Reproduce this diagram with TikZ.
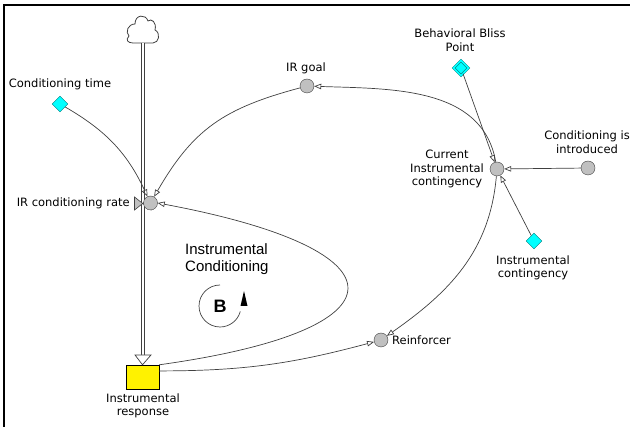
\documentclass[tikz,border=0pt]{standalone}
\usepackage{fontspec}
\setmainfont{DejaVu Sans}
\newfontfamily\loopfont{Liberation Sans}
\usetikzlibrary{arrows.meta, shapes.geometric}

\definecolor{auxgray}{HTML}{C0C0C0}
\definecolor{constcyan}{HTML}{00FFFF}
\definecolor{linkgray}{HTML}{404040}
\definecolor{constedge}{HTML}{007878}

\begin{document}
\begin{tikzpicture}[x=1pt, y=1pt,
    font=\fontsize{11.5}{13.5}\selectfont,
    aux/.style={circle, draw=linkgray, fill=auxgray, inner sep=0pt, minimum size=14pt},
    const/.style={diamond, draw=constedge, fill=constcyan, inner sep=0pt, minimum size=16pt},
    stock/.style={rectangle, draw=black, fill=yellow, inner sep=0pt, minimum width=33pt, minimum height=24pt},
    link/.style={draw=linkgray, line width=0.7pt, -{Triangle[open, length=7pt, width=5.5pt]}},
    pipe/.style={draw=linkgray, line width=0.8pt, double=white, double distance=2.4pt},
    lbl/.style={align=center, inner sep=0pt}]
  \useasboundingbox (0,-427) rectangle (630,0);

  % window edge
  \draw[line width=1.5pt] (4,-427) -- (4,-5) -- (630,-5);

  % source cloud and flow pipe
  \draw[linkgray, line width=0.8pt, fill=white] (133,-43) -- (153,-43)
    .. controls (159,-43) and (161,-33) .. (155,-30)
    .. controls (157,-22) and (151,-18) .. (148,-21)
    .. controls (146,-14) and (135,-14) .. (135,-24)
    .. controls (128,-24) and (125,-32) .. (129,-36)
    .. controls (125,-40) and (128,-43) .. (133,-43) -- cycle;
  \coordinate (cloudbase) at (143,-43);

  \node[stock] (resp) at (142.5,-377) {};
  \coordinate (pipeend) at (143,-355);
  \draw[pipe] (cloudbase) -- (pipeend);
  \draw[linkgray, line width=0.7pt, fill=white] (135,-355) -- (151,-355) -- (resp.north) -- cycle;

  % valve
  \draw[linkgray, line width=0.6pt, fill=auxgray] (134.5,-197) -- (151,-210) -- (151,-197) -- (134.5,-210) -- cycle;

  % variables
  \node[aux] (rate) at (150.5,-203) {};
  \node[aux] (goal) at (307,-86) {};
  \node[aux] (cur) at (497,-169) {};
  \node[aux] (intro) at (588,-168) {};
  \node[aux] (reinf) at (381,-340) {};
  \node[const] (ctime) at (60,-104) {};
  \node[const] (cont) at (534,-241) {};
  \node[const, minimum size=15pt, double=constcyan, double distance=1.6pt] (bliss) at (461,-68) {};

  % names
  \node[lbl, anchor=east] (rate-l) at (130,-203) {IR conditioning rate};
  \node[lbl] (goal-l) at (306,-68) {IR goal};
  \node[lbl] (ctime-l) at (60,-84) {Conditioning time};
  \node[lbl] (bliss-l) at (460,-40) {Behavioral Bliss\\Point};
  \node[lbl] (cur-l) at (447,-169) {Current\\Instrumental\\contingency};
  \node[lbl] (intro-l) at (587,-142) {Conditioning is\\introduced};
  \node[lbl] (cont-l) at (533,-268) {Instrumental\\contingency};
  \node[lbl, anchor=west] (reinf-l) at (392,-340) {Reinforcer};
  \node[lbl] (resp-l) at (143,-406) {Instrumental\\response};

  % links
  \draw[link] (ctime) to[out=-30, in=115] (rate);
  \draw[link] (goal) to[out=195, in=60, looseness=1.1] (rate);
  \draw[link] (cur) to[out=100, in=-2] (goal);
  \draw[link] (bliss) -- (cur);
  \draw[link] (intro) -- (cur);
  \draw[link] (cont) -- (cur);
  \draw[link] (cur) to[out=-95, in=35] (reinf);
  \draw[link] (resp.20) to[out=0, in=195] (reinf);
  \draw[link] (resp.north east) .. controls (410,-330) and (410,-250) .. (rate.east);

  % balancing loop
  \node[lbl, font=\loopfont\fontsize{15}{17}\selectfont, align=left, anchor=west] (loop-l) at (185,-259) {Instrumental\\Conditioning};
  \node[font=\loopfont\bfseries\fontsize{18}{18}\selectfont, inner sep=0pt] (loopB) at (220,-306) {B};
  \draw[linkgray, line width=0.7pt] (loopB.center) ++(90:21) arc[start angle=90, end angle=345, radius=21];
  \fill (244,-291) -- (240.5,-306) -- (247.5,-306) -- cycle;
\end{tikzpicture}
\end{document}
